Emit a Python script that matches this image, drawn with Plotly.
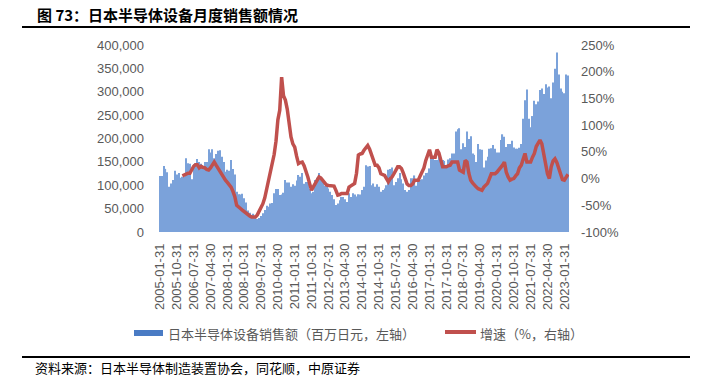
import pandas as pd
import plotly.graph_objects as go

# ---------------- data ----------------
# monthly sales, thousand x 百万日元 (2005-01 .. 2023-03)
sales_2005 = [120, 120, 141, 135, 128, 97, 104, 111, 131, 123, 126, 116]
sales_2006 = [118, 118, 158, 147, 146, 113, 145, 147, 156, 150, 146, 141]
sales_2007 = [150, 150, 177, 170, 177, 158, 167, 174, 175, 161, 150, 129]
sales_2008 = [133, 131, 154, 135, 123, 86, 81, 80, 82, 72, 63, 46]
sales_2009 = [41, 36, 39, 33, 28, 30, 34, 40, 47, 56, 54, 61]
sales_2010 = [62, 83, 92, 92, 79, 80, 84, 111, 106, 106, 97, 102]
sales_2011 = [99, 110, 122, 118, 126, 103, 107, 107, 92, 83, 86, 111]
sales_2012 = [116, 126, 118, 107, 99, 103, 93, 86, 79, 70, 58, 61]
sales_2013 = [68, 75, 75, 70, 64, 83, 75, 83, 80, 76, 81, 80]
sales_2014 = [90, 97, 143, 140, 141, 100, 104, 97, 102, 97, 86, 90]
sales_2015 = [93, 100, 133, 135, 138, 100, 107, 115, 126, 113, 104, 90]
sales_2016 = [86, 90, 115, 115, 121, 99, 107, 111, 113, 121, 126, 127]
sales_2017 = [136, 158, 158, 154, 154, 161, 146, 154, 152, 143, 155, 158]
sales_2018 = [168, 168, 215, 220, 222, 177, 190, 182, 215, 199, 205, 168]
sales_2019 = [165, 150, 188, 177, 176, 138, 153, 161, 178, 179, 186, 178]
sales_2020 = [170, 170, 197, 209, 204, 182, 188, 188, 195, 181, 178, 178]
sales_2021 = [180, 188, 242, 282, 305, 242, 224, 248, 281, 273, 279, 304]
sales_2022 = [307, 295, 316, 309, 311, 286, 320, 349, 384, 337, 307, 300]
sales_2023 = [297, 337, 335]

# YoY growth, % (starts 2006-01)
growth_2006 = [5, 7, 9, 10, 10, 17, 23, 26, 26, 20, 23, 21]
growth_2007 = [20, 17, 16, 20, 27, 31, 25, 19, 14, 9, 2, -3]
growth_2008 = [-7, -12, -16, -24, -34, -50, -54, -56, -59, -62, -65, -69]
growth_2009 = [-70, -72, -72, -72, -68, -62, -56, -47, -36, -20, -3, 10]
growth_2010 = [22, 45, 70, 110, 128, 190, 155, 147, 130, 100, 78, 65]
growth_2011 = [59, 42, 28, 30, 31, 24, 15, 3, -10, -22, -15, -9]
growth_2012 = [-3, 3, 1, -3, -9, -12, -13, -13, -13, -14, -22, -31]
growth_2013 = [-30, -28, -28, -28, -28, -16, -13, -10, -9, 10, 44, 46]
growth_2014 = [47, 53, 57, 62, 55, 44, 35, 25, 25, 20, 9, 8]
growth_2015 = [6, 0, -6, 0, 3, 9, 15, 22, 22, 19, 10, -3]
growth_2016 = [-10, -13, -13, -10, -3, -3, -3, 5, 12, 20, 34, 45]
growth_2017 = [54, 40, 40, 40, 54, 48, 35, 22, 22, 22, 24, 25]
growth_2018 = [31, 31, 31, 31, 16, 14, 12, 34, 31, 10, -3, -8]
growth_2019 = [-13, -16, -19, -21, -22, -16, -13, -9, 0, 9, 9, 9]
growth_2020 = [12, 16, 20, 25, 31, 12, 3, -3, -1, 0, 5, 9]
growth_2021 = [20, 25, 36, 47, 31, 31, 31, 40, 47, 60, 68, 72]
growth_2022 = [65, 47, 25, 9, 0, 22, 33, 37, 30, 20, 5, -2]
growth_2023 = [-3, 3, 8]

tick_labels = ["2005-01-31", "2005-10-31", "2006-07-31", "2007-04-30", "2008-01-31",
               "2008-10-31", "2009-07-31", "2010-04-30", "2011-01-31", "2011-10-31",
               "2012-07-31", "2013-04-30", "2014-01-31", "2014-10-31", "2015-07-31",
               "2016-04-30", "2017-01-31", "2017-10-31", "2018-07-31", "2019-04-30",
               "2020-01-31", "2020-10-31", "2021-07-31", "2022-04-30", "2023-01-31"]
left_ticks = [0, 50000, 100000, 150000, 200000, 250000, 300000, 350000, 400000]
right_ticks = [-100, -50, 0, 50, 100, 150, 200, 250]

sales_k = (sales_2005 + sales_2006 + sales_2007 + sales_2008 + sales_2009 + sales_2010 +
           sales_2011 + sales_2012 + sales_2013 + sales_2014 + sales_2015 + sales_2016 +
           sales_2017 + sales_2018 + sales_2019 + sales_2020 + sales_2021 + sales_2022 +
           sales_2023)
sales = [v * 1000 for v in sales_k]
growth = ([None] * 12 + growth_2006 + growth_2007 + growth_2008 + growth_2009 + growth_2010 +
          growth_2011 + growth_2012 + growth_2013 + growth_2014 + growth_2015 + growth_2016 +
          growth_2017 + growth_2018 + growth_2019 + growth_2020 + growth_2021 + growth_2022 +
          growth_2023)
months = [d.strftime("%Y-%m-%d") for d in pd.date_range("2005-01-31", periods=len(sales), freq="ME")]

# ---------------- layout helpers ----------------
W, H = 711, 376
ML, MR, MT, MB = 159, 142, 45, 144
PW, PH = W - ML - MR, H - MT - MB


def px(x):
    return (x - ML) / PW


def py(y):
    return (H - MB - y) / PH


CJK = "Noto Sans CJK SC"
NUM = "Liberation Sans, Arial"
GRAY = "#595959"
BLUE = "#4A7BC4"
BAR_BLUE = "#7BA2DA"
RED = "#C0504D"

fig = go.Figure()
fig.add_trace(go.Bar(x=months, y=sales, marker=dict(color=BAR_BLUE, line=dict(width=0)),
                     name="日本半导体设备销售额（百万日元，左轴）", showlegend=False))
fig.add_trace(go.Scatter(x=months, y=growth, yaxis="y2", mode="lines",
                         line=dict(color=RED, width=3.5), name="增速（%，右轴）",
                         showlegend=False, connectgaps=False))

shapes = [
    dict(type="line", xref="paper", yref="paper", x0=px(22), x1=px(690), y0=py(27), y1=py(27),
         line=dict(color="black", width=2)),
    dict(type="line", xref="paper", yref="paper", x0=px(22), x1=px(690), y0=py(357), y1=py(357),
         line=dict(color="black", width=2)),
    dict(type="rect", xref="paper", yref="paper", x0=px(134), x1=px(163), y0=py(336), y1=py(330),
         fillcolor=BLUE, line=dict(width=0)),
    dict(type="line", xref="paper", yref="paper", x0=px(445), x1=px(476), y0=py(332), y1=py(332),
         line=dict(color=RED, width=4)),
]

annotations = [
    dict(text="<b>图 73：日本半导体设备月度销售额情况</b>", xref="paper", yref="paper",
         x=px(35), y=py(14), xanchor="left", yanchor="middle", showarrow=False,
         font=dict(family=CJK, size=15, color="black")),
    dict(text="日本半导体设备销售额（百万日元，左轴）", xref="paper", yref="paper",
         x=px(166), y=py(333), xanchor="left", yanchor="middle", showarrow=False,
         font=dict(family=CJK, size=13, color=GRAY)),
    dict(text="增速（%，右轴）", xref="paper", yref="paper",
         x=px(478), y=py(333), xanchor="left", yanchor="middle", showarrow=False,
         font=dict(family=CJK, size=13, color=GRAY)),
    dict(text="资料来源：日本半导体制造装置协会，同花顺，中原证券", xref="paper", yref="paper",
         x=px(33), y=py(367), xanchor="left", yanchor="middle", showarrow=False,
         font=dict(family=CJK, size=13, color="black")),
]

fig.update_layout(
    width=W, height=H,
    margin=dict(l=ML, r=MR, t=MT, b=MB, pad=0),
    paper_bgcolor="white", plot_bgcolor="white",
    bargap=0.4,
    shapes=shapes, annotations=annotations,
    xaxis=dict(type="category", tickmode="array", tickvals=tick_labels, ticktext=tick_labels,
               tickangle=-90, tickfont=dict(family=NUM, size=13, color=GRAY),
               showgrid=False, zeroline=False, showline=False, ticks="", ticklabelstandoff=8,
               automargin=False),
    yaxis=dict(range=[0, 400000], tickmode="array", tickvals=left_ticks,
               ticktext=[f"{v:,}" for v in left_ticks],
               tickfont=dict(family=NUM, size=13, color=GRAY),
               showgrid=False, zeroline=False, showline=False, ticks="", ticklabelstandoff=14,
               automargin=False),
    yaxis2=dict(range=[-100, 250], tickmode="array", tickvals=right_ticks,
                ticktext=[f"{v}%" for v in right_ticks],
                overlaying="y", side="right",
                tickfont=dict(family=NUM, size=13, color=GRAY),
                showgrid=False, zeroline=False, showline=False, ticks="", ticklabelstandoff=11,
                automargin=False),
)

fig.write_html("out.html", config={"displayModeBar": False},
               post_script="document.body.style.margin='0';")
